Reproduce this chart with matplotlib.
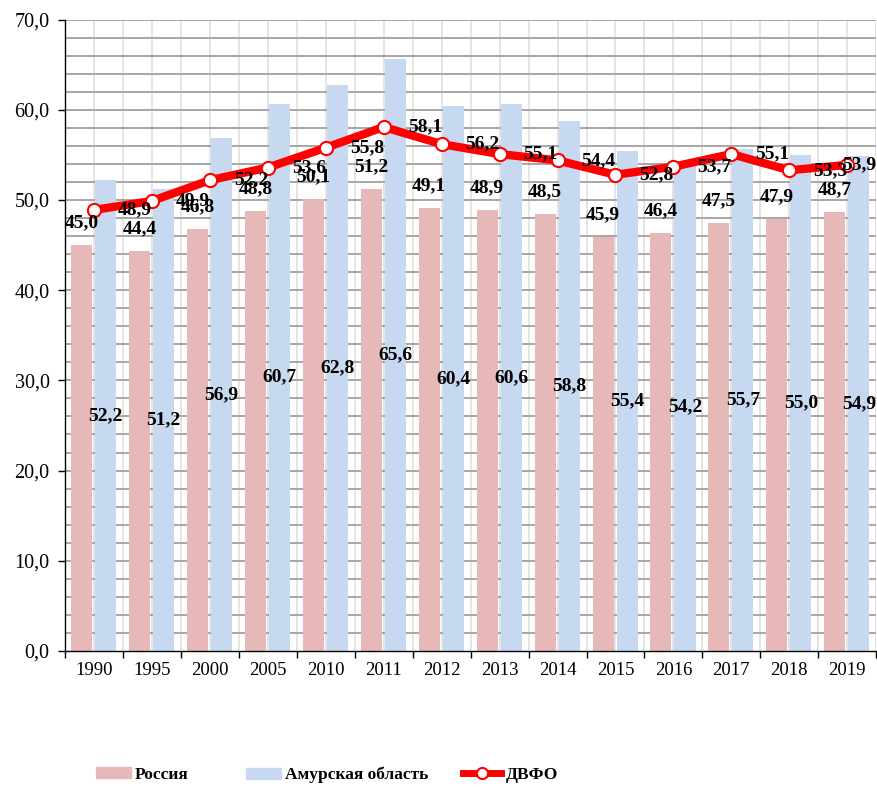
import matplotlib
matplotlib.use("Agg")
import matplotlib.pyplot as plt
from matplotlib.lines import Line2D
from matplotlib.patches import Patch
from matplotlib.ticker import FuncFormatter, MultipleLocator
import numpy as np

# --- data ---
years = ["1990", "1995", "2000", "2005", "2010", "2011", "2012",
         "2013", "2014", "2015", "2016", "2017", "2018", "2019"]
russia = [45.0, 44.4, 46.8, 48.8, 50.1, 51.2, 49.1,
          48.9, 48.5, 45.9, 46.4, 47.5, 47.9, 48.7]
amur = [52.2, 51.2, 56.9, 60.7, 62.8, 65.6, 60.4,
        60.6, 58.8, 55.4, 54.2, 55.7, 55.0, 54.9]
dvfo = [48.9, 49.9, 52.2, 53.6, 55.8, 58.1, 56.2,
        55.1, 54.4, 52.8, 53.7, 55.1, 53.3, 53.9]

C_RU = "#E6B9B8"
C_AM = "#C6D9F1"
C_LINE = "#FF0000"
SERIF = "Liberation Serif"

plt.rcParams["font.family"] = SERIF

fig = plt.figure(figsize=(8.78, 7.88), dpi=100)
ax = fig.add_axes([0.074, 0.174, 0.924, 0.801])

x = np.arange(len(years))
bw = 0.363

# сетка
for v in np.arange(-0.5, len(years), 0.5):
    ax.axvline(v, color="#e4e4e4", lw=1.4, zorder=0)
for v in range(2, 71, 2):
    ax.axhline(v, color="#a6a6a6", lw=1.4, zorder=0.5)

ax.bar(x - 0.215, russia, bw, color=C_RU, zorder=2)
ax.bar(x + 0.2, amur, bw, color=C_AM, zorder=2)
ax.plot(x, dvfo, color=C_LINE, lw=6, zorder=3,
        marker="o", ms=9.5, mfc="white", mec=C_LINE, mew=1.5,
        solid_capstyle="round")

lab = dict(ha="center", va="center", fontsize=14, fontweight="bold",
           family=SERIF, zorder=5)
fmt = lambda v: f"{v:.1f}".replace(".", ",")

for i in x:
    ax.annotate(fmt(russia[i]), (i - 0.215, russia[i]), xytext=(0, 16),
                textcoords="offset points", **lab)
    ax.text(i + 0.2, amur[i] / 2, fmt(amur[i]), **lab)
    dx = 0.71 if i < len(x) - 1 else 0.2
    ax.text(i + dx, dvfo[i], fmt(dvfo[i]), **lab)

ax.set_xlim(-0.5, len(years) - 0.5)
ax.set_ylim(0, 70)
ax.yaxis.set_major_locator(MultipleLocator(10))
ax.yaxis.set_major_formatter(FuncFormatter(lambda v, p: fmt(v)))
ax.tick_params(axis="y", length=5, width=1, pad=6, labelsize=14.5)

ax.set_xticks(np.arange(-0.5, len(years), 1))
ax.set_xticklabels([])
ax.set_xticks(x, minor=True)
ax.set_xticklabels(years, minor=True, fontsize=13.5)
ax.tick_params(axis="x", which="major", length=5, width=1)
ax.tick_params(axis="x", which="minor", length=0, pad=8)

for s in ["top", "right"]:
    ax.spines[s].set_visible(False)
for s in ["left", "bottom"]:
    ax.spines[s].set_color("black")
    ax.spines[s].set_linewidth(1)
    ax.spines[s].set_zorder(4)

leg_kw = dict(loc="center left", frameon=False, borderpad=0, borderaxespad=0,
              handletextpad=0.25, prop={"family": SERIF, "weight": "bold", "size": 12.5})
y_leg = 1 - 775 / 788
fig.legend(handles=[Patch(color=C_RU)], labels=["Россия"],
           bbox_to_anchor=(96 / 878, y_leg), handlelength=2.0,
           handleheight=0.6, **leg_kw)
fig.legend(handles=[Patch(color=C_AM)], labels=["Амурская область"],
           bbox_to_anchor=(246 / 878, y_leg), handlelength=2.0,
           handleheight=0.6, **leg_kw)
fig.legend(handles=[Line2D([], [], color=C_LINE, lw=5, marker="o", ms=8,
                           mfc="white", mec=C_LINE, mew=1.5)],
           labels=["ДВФО"], bbox_to_anchor=(463 / 878, y_leg),
           handlelength=2.2, numpoints=1, **leg_kw)

fig.savefig("out.png", dpi=100)
